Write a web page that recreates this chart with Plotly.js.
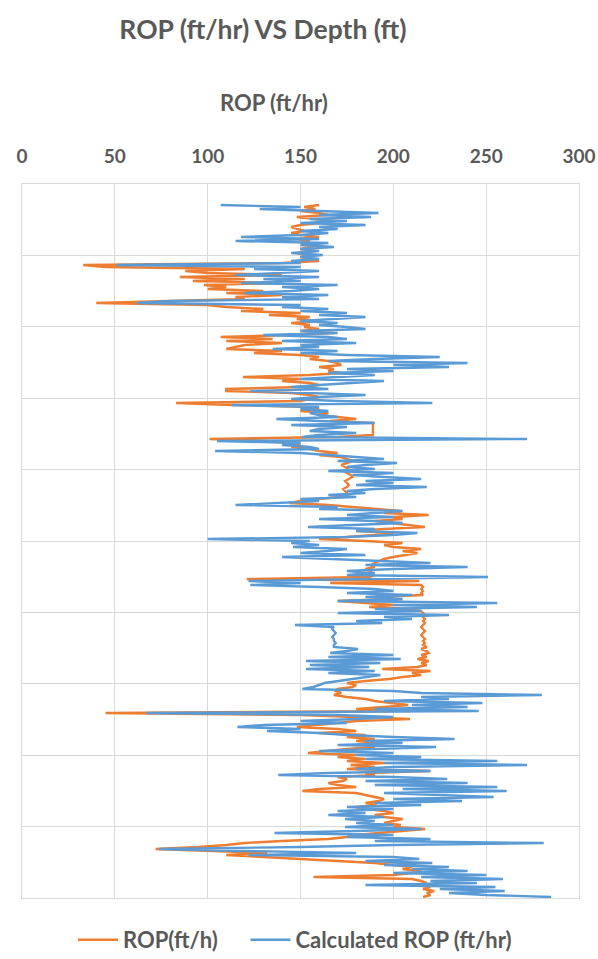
<!DOCTYPE html>
<html>
<head>
<meta charset="utf-8">
<script src="https://cdn.plot.ly/plotly-3.0.1.min.js"></script>
<style>
  html, body { margin: 0; padding: 0; background: #ffffff; }
  #chart { width: 598px; height: 959px; }
</style>
</head>
<body>
<div id="chart"></div>
<script>
// Depth (ft) of each sample, increasing downward
const depthFt = [
  210,230,250,270,290,310,330,350,370,390,
  410,430,450,470,490,510,530,550,570,590,
  610,630,650,670,690,710,730,750,770,790,
  810,830,850,870,890,910,930,950,970,990,
  1010,1030,1050,1070,1090,1110,1130,1150,1170,1190,
  1210,1230,1250,1270,1290,1310,1330,1350,1370,1390,
  1410,1430,1450,1470,1490,1510,1530,1550,1570,1590,
  1610,1630,1650,1670,1690,1710,1730,1750,1770,1790,
  1810,1830,1850,1870,1890,1910,1930,1950,1970,1990,
  2010,2030,2050,2070,2090,2110,2130,2150,2170,2190,
  2210,2230,2250,2270,2290,2310,2330,2350,2370,2390,
  2410,2430,2450,2470,2490,2510,2530,2550,2570,2590,
  2610,2630,2650,2670,2690,2710,2730,2750,2770,2790,
  2810,2830,2850,2870,2890,2910,2930,2950,2970,2990,
  3010,3030,3050,3070,3090,3110,3130,3150,3170,3190,
  3210,3230,3250,3270,3290,3310,3330,3350,3370,3390,
  3410,3430,3450,3470,3490,3510,3530,3550,3570,3590,
  3610,3630,3650,3670,3690,3710,3730,3750,3770,3790,
  3810,3830,3850,3870,3890,3910,3930,3950,3970,3990,
  4010,4030,4050,4070,4090,4110,4130,4150,4170,4190,
  4210,4230,4250,4270,4290,4310,4330,4350,4370,4390,
  4410,4430,4450,4470,4490,4510,4530,4550,4570,4590,
  4610,4630,4650,4670,4690,4710,4730,4750,4770,4790,
  4810,4830,4850,4870,4890,4910,4930,4950,4970,4990,
  5010,5030,5050,5070,5090,5110,5130,5150,5170,5190,
  5210,5230,5250,5270,5290,5310,5330,5350,5370,5390,
  5410,5430,5450,5470,5490,5510,5530,5550,5570,5590,
  5610,5630,5650,5670,5690,5710,5730,5750,5770,5790,
  5810,5830,5850,5870,5890,5910,5930,5950,5970,5990,
  6010,6030,6050,6070,6090,6110,6130,6150,6170,6190,
  6210,6230,6250,6270,6290,6310,6330,6350,6370,6390,
  6410,6430,6450,6470,6490,6510,6530,6550,6570,6590,
  6610,6630,6650,6670,6690,6710,6730,6750,6770,6790,
  6810,6830,6850,6870,6890,6910,6930,6950,6970,6990,
  7010,7030,7050,7070,7090,7110,7130
];

// Measured ROP (ft/h)
const ropMeasured = [
  160,152,158,150,160,165,148,158,168,160,
  150,145,148,152,145,150,160,148,155,150,
  160,155,150,158,148,155,150,155,160,140,
  33,45,120,88,100,140,85,120,92,140,
  98,110,100,130,110,140,115,120,80,40,
  100,110,130,118,150,133,155,148,160,145,
  155,152,160,150,168,145,107,135,110,140,
  120,115,110,140,125,150,160,155,165,170,
  172,160,168,165,172,155,119,150,140,155,
  160,150,110,110,145,155,160,155,150,83,
  113,155,160,150,165,160,170,180,166,189,
  189,189,189,189,189,189,170,101,130,145,
  150,145,155,160,170,160,172,175,178,175,
  172,174,176,173,175,177,178,176,174,175,
  176,175,173,174,175,172,170,160,150,144,
  165,178,190,204,195,219,200,205,190,200,
  208,217,195,180,200,190,175,160,185,205,
  195,200,215,205,213,205,200,195,192,190,
  188,190,185,188,187,190,187,121,214,166,
  215,216,215,216,215,216,190,200,170,186,
  200,187,210,215,216,217,216,217,216,217,
  216,215,216,217,216,215,216,217,216,217,
  216,218,215,218,219,215,218,213,219,215,
  218,213,194,220,210,215,205,198,185,175,
  180,178,170,169,172,168,175,185,190,200,
  208,195,180,209,45,150,180,209,180,170,
  160,148,170,180,160,185,175,190,180,195,
  185,190,175,165,154,180,170,185,175,195,
  177,190,175,220,185,190,170,175,173,165,
  170,180,160,151,180,185,190,195,192,185,
  191,180,185,195,200,190,195,205,200,195,
  204,200,217,205,190,180,175,165,140,120,
  110,95,72,106,132,110,130,150,170,190,
  200,210,205,215,210,200,157,210,215,218,
  212,220,216,222,218,220,216
];

// Calculated ROP (ft/hr)
const ropCalculated = [
  107,150,128,160,192,160,188,155,175,150,
  185,160,170,150,165,150,118,160,115,165,
  150,168,150,160,145,162,150,160,145,150,
  51,150,125,160,140,115,160,130,150,118,
  170,140,160,145,120,165,140,160,80,62,
  150,140,165,150,175,160,185,165,150,170,
  160,175,185,150,170,130,165,175,140,180,
  150,160,135,170,150,175,225,190,165,240,
  200,230,175,200,165,190,170,150,195,175,
  160,145,165,123,150,185,160,145,170,221,
  113,160,150,165,155,160,170,137,160,190,
  145,175,160,155,180,160,151,272,105,150,
  140,155,160,104,150,165,180,195,170,202,
  185,175,190,165,200,178,195,215,185,200,
  180,218,190,175,185,165,180,150,160,140,
  115,170,160,205,190,175,200,160,190,205,
  178,154,190,180,213,200,175,100,155,145,
  160,146,175,165,150,185,140,170,200,220,
  185,240,200,175,190,175,251,190,122,150,
  123,160,190,200,175,210,185,205,170,256,
  200,245,190,215,170,230,195,210,180,194,
  147,168,167,168,169,168,167,168,168,169,
  168,168,181,175,166,200,165,204,153,193,
  155,187,153,190,165,193,185,178,170,163,
  160,157,151,200,215,280,215,230,195,248,
  210,240,190,246,67,170,200,180,150,175,
  130,116,150,132,160,175,200,233,185,205,
  170,223,190,160,200,180,215,185,256,195,
  272,200,180,220,165,138,200,229,185,240,
  190,256,205,261,195,225,254,200,237,190,
  215,175,200,170,185,165,195,174,190,180,
  200,174,215,180,136,200,175,220,190,281,
  200,150,74,120,180,122,200,214,185,221,
  195,230,210,240,200,250,215,259,220,245,
  185,255,225,260,230,250,285
];

const seriesNames = ['ROP(ft/h)', 'Calculated ROP (ft/hr)'];
const ropTicks = [0, 50, 100, 150, 200, 250, 300];

const txtColor = '#595959';
const gridColor = '#d9d9d9';
const fontFam = 'Lato, "Open Sans", sans-serif';

const traces = [
  {
    x: ropMeasured, y: depthFt,
    name: '<b>' + seriesNames[0] + '</b>\u00a0\u00a0\u00a0\u00a0',
    type: 'scatter', mode: 'lines',
    line: { color: '#ED7D31', width: 2.4 }
  },
  {
    x: ropCalculated, y: depthFt, name: '<b>' + seriesNames[1] + '</b>',
    type: 'scatter', mode: 'lines',
    line: { color: '#5B9BD5', width: 2.4 }
  }
];

const layout = {
  width: 598, height: 959,
  paper_bgcolor: '#ffffff', plot_bgcolor: '#ffffff',
  margin: { l: 22, r: 19, t: 184, b: 61, autoexpand: false },
  font: { family: fontFam, color: txtColor },
  title: {
    text: '<b>ROP (ft/hr) VS Depth (ft)</b>',
    font: { family: fontFam, size: 26.5, color: txtColor },
    xref: 'container', yref: 'container',
    x: 263 / 598, xanchor: 'center',
    y: 1 - 30 / 959, yanchor: 'middle'
  },
  xaxis: {
    side: 'top',
    range: [0, 300],
    tickvals: ropTicks,
    ticktext: ropTicks.map(v => '<b>' + v + '</b>'),
    tickfont: { family: fontFam, size: 19, color: txtColor },
    ticks: '',
    ticklabelstandoff: 12,
    showgrid: true, gridcolor: gridColor, gridwidth: 1,
    showline: true, linecolor: gridColor, linewidth: 1, mirror: true,
    zeroline: false,
    fixedrange: true
  },
  yaxis: {
    range: [7140, 0],
    tick0: 0, dtick: 714,
    showticklabels: false,
    ticks: '',
    showgrid: true, gridcolor: gridColor, gridwidth: 1,
    showline: true, linecolor: gridColor, linewidth: 1, mirror: true,
    zeroline: false,
    fixedrange: true
  },
  annotations: [
    {
      text: '<b>ROP (ft/hr)</b>',
      xref: 'paper', yref: 'paper',
      x: (274 - 22) / 557, y: 1 + (184 - 103) / 714,
      xanchor: 'center', yanchor: 'middle',
      showarrow: false,
      font: { family: fontFam, size: 22, color: txtColor }
    }
  ],
  showlegend: true,
  legend: {
    orientation: 'h',
    xref: 'container', yref: 'container',
    x: 73 / 598, xanchor: 'left',
    y: 1 - 940 / 959, yanchor: 'middle',
    font: { family: fontFam, size: 22, color: txtColor },
    itemwidth: 40,
    traceorder: 'normal'
  }
};

Plotly.newPlot('chart', traces, layout, { staticPlot: true, displayModeBar: false });
</script>
</body>
</html>
